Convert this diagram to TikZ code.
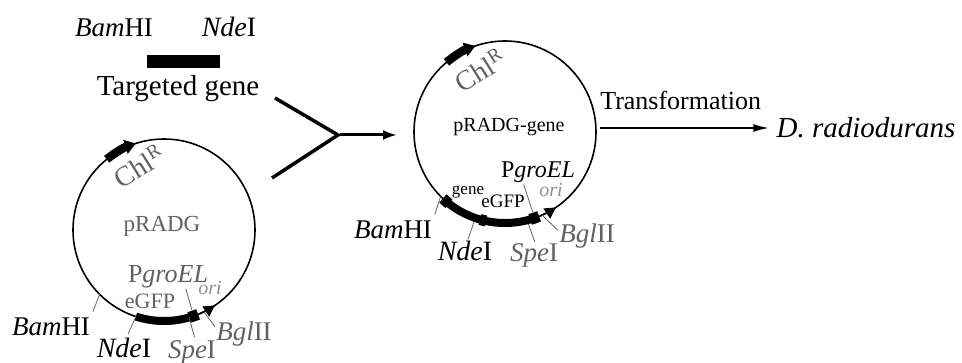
\documentclass[tikz,border=0pt]{standalone}
\usepackage{fontspec}
\setmainfont{Liberation Serif}
\usetikzlibrary{arrows.meta}

\definecolor{labelgray}{gray}{0.38}

\newcommand{\fsz}[1]{\fontsize{#1}{#1}\selectfont}

\begin{document}
\begin{tikzpicture}[x=1pt,y=1pt,
	plasmid/.style={draw,circle,line width=1.6pt,minimum size=182pt,inner sep=0pt,outer sep=0pt},
	site/.style={inner sep=1pt,anchor=base},
	tick/.style={draw=labelgray,line width=0.8pt},
	marker/.style={line width=8pt},
	block/.style={line width=11pt},
	orihead/.style={line width=1.6pt,-{Triangle[length=11pt,width=12pt]}},
	chlhead/.style={line width=8.5pt,-{Triangle[length=11pt,width=14pt]}}]
	\useasboundingbox (0,0) rectangle (962,362);

	% -- Targeted gene
	\node[site,font=\fsz{27}] (tbam) at (114,325) {\textit{Bam}HI};
	\node[site,font=\fsz{28}] (tnde) at (229,325) {\textit{Nde}I};
	\node[fill,minimum width=73pt,minimum height=13pt,inner sep=0pt] (gbar) at (183.5,300.5) {};
	\node[site,font=\fsz{29}] (tgene) at (178,266) {Targeted gene};

	% -- pRADG
	\node[plasmid] (lp) at (164,132) {};
	\node[site,font=\fsz{23},text=labelgray] (lpname) at (162,130) {pRADG};
	\node[site,font=\fsz{28},text=labelgray,rotate=32,anchor=center] (lchl) at (139,196) {Chl\textsuperscript{R}};
	\draw[chlhead] (lp.129) arc[start angle=129,end angle=108,radius=91];
	\draw[marker] (lp.252) arc[start angle=252,end angle=288,radius=91];
	\draw[block] (lp.286) arc[start angle=286,end angle=292,radius=91];
	\draw[orihead] (lp.293) arc[start angle=293,end angle=304,radius=91];

	\node[site,font=\fsz{26},text=labelgray] (lpgro) at (168,80) {P\textit{groEL}};
	\node[site,font=\fsz{22},text=labelgray] (legfp) at (150,54) {eGFP};
	\node[site,font=\fsz{20},text=labelgray!70] (lori) at (210,67) {\textit{ori}};
	\node[site,font=\fsz{27}] (lbam) at (51,27) {\textit{Bam}HI};
	\node[site,font=\fsz{28}] (lnde) at (124,5) {\textit{Nde}I};
	\node[site,font=\fsz{27},text=labelgray] (lspe) at (192,4) {\textit{Spe}I};
	\node[site,font=\fsz{27},text=labelgray] (lbgl) at (244,22) {\textit{Bgl}II};

	\draw[tick,shorten >=5pt] (lp.225) -- (lbam.north east);
	\draw[tick,shorten >=3pt] (lp.252) -- (lnde.75);
	\draw[tick,shorten >=2pt] (lp.286) -- (lspe.77);
	\draw[tick] (lp.296) -- (lbgl.167);
	\draw[tick,shorten >=6pt] (lpgro.-35) -- (lp.289);

	% -- Ligation
	\coordinate (upin) at (275,264);
	\coordinate (lowin) at (272,184);
	\coordinate (meet) at (338,227);
	\draw[line width=3.5pt] (upin) -- (meet) -- (lowin);

	% -- pRADG-gene
	\node[plasmid] (rp) at (505,230) {};
	\draw[line width=3pt,-{Latex[length=14pt,width=10pt]},shorten <=2pt,shorten >=17pt] (meet) -- (meet -| rp.west);

	\node[site,font=\fsz{20}] (rpname) at (509,230) {pRADG-gene};
	\node[site,font=\fsz{28},text=labelgray,rotate=32,anchor=center] (rchl) at (480,292) {Chl\textsuperscript{R}};
	\draw[chlhead] (rp.130) arc[start angle=130,end angle=109,radius=91];
	\draw[marker] (rp.227) arc[start angle=227,end angle=288,radius=91];
	\draw[block] (rp.227) arc[start angle=227,end angle=232,radius=91];
	\draw[block] (rp.254) arc[start angle=254,end angle=258,radius=91];
	\draw[block] (rp.286) arc[start angle=286,end angle=292,radius=91];
	\draw[orihead] (rp.293) arc[start angle=293,end angle=304,radius=91];

	\node[site,font=\fsz{24}] (rpgro) at (538,184) {P\textit{groEL}};
	\node[site,font=\fsz{17}] (rgene) at (468,167) {gene};
	\node[site,font=\fsz{19}] (regfp) at (503,154) {eGFP};
	\node[site,font=\fsz{20},text=labelgray!70] (rori) at (551,165) {\textit{ori}};
	\node[site,font=\fsz{27}] (rbam) at (393,124) {\textit{Bam}HI};
	\node[site,font=\fsz{28}] (rnde) at (465,102) {\textit{Nde}I};
	\node[site,font=\fsz{27},text=labelgray] (rspe) at (534,100) {\textit{Spe}I};
	\node[site,font=\fsz{27},text=labelgray] (rbgl) at (587,120) {\textit{Bgl}II};

	\draw[tick,shorten >=5pt] (rp.225) -- (rbam.north east);
	\draw[tick,shorten <=4pt] (rp.251) -- (rnde.75);
	\draw[tick,shorten <=4pt,shorten >=1pt] (rp.284) -- (rspe.85);
	\draw[tick] (rp.294) -- (rbgl.170);
	\draw[tick,shorten >=6pt] (rpgro.-141) -- (rp.289);

	% -- Transformation
	\node[site,font=\fsz{29},anchor=center] (dr) at (866,234) {\textit{D. radiodurans}};
	\draw[line width=2.2pt,-{Latex[length=16pt,width=8pt]},shorten <=4pt,shorten >=6pt] (rp.east |- dr.west) -- (dr.west)
		node[site,midway,xshift=-5pt,yshift=18pt,font=\fsz{26}] (ttrans) {Transformation};
\end{tikzpicture}
\end{document}
